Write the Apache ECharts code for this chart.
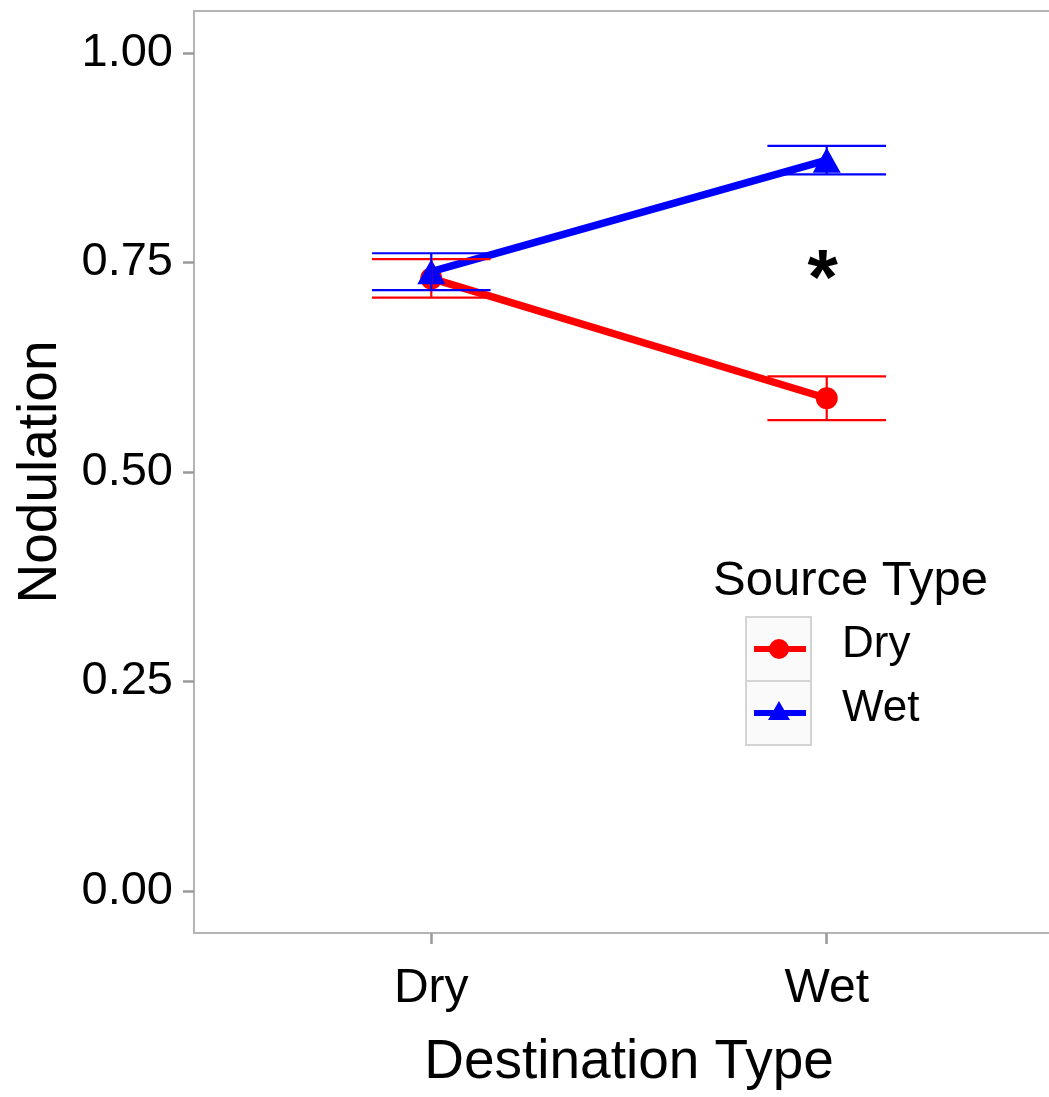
<!DOCTYPE html>
<html>
<head>
<meta charset="utf-8">
<title>Nodulation by destination and source type</title>
<script src="https://cdn.jsdelivr.net/npm/echarts@6/dist/echarts.min.js"></script>
<style>
  html, body { margin: 0; padding: 0; background: #fff; }
  #chart { width: 1049px; height: 1097px; }
</style>
</head>
<body>
<div id="chart"></div>
<script>
// Destination types on the x axis (positions 1, 2)
const destinations = ['Dry', 'Wet'];
// Source types (one line each)
const sourceTypes = ['Dry', 'Wet'];
const sourceColors = ['#ff0000', '#0000ff'];
const sourceSymbols = ['circle', 'triangle'];

// Mean nodulation and error-bar limits per destination
const dryMean  = [0.731, 0.588];
const dryLower = [0.708, 0.562];
const dryUpper = [0.754, 0.614];
const wetMean  = [0.739, 0.872];
const wetLower = [0.717, 0.855];
const wetUpper = [0.761, 0.889];

// y-axis tick values
const yTicks = [0, 0.25, 0.5, 0.75, 1];

// significance marker
const starLabel = '*';
const starDestination = 'Wet';
const starValue = 0.726;

const means = [dryMean, wetMean];
const lowers = [dryLower, wetLower];
const uppers = [dryUpper, wetUpper];

const FONT = '"Liberation Sans", Arial, Helvetica, sans-serif';
const xPos = name => destinations.indexOf(name) + 1;
const capHalf = 0.15;

const chart = echarts.init(document.getElementById('chart'), null, { renderer: 'canvas' });

const lineSeries = sourceTypes.map((s, i) => ({
  name: s,
  type: 'line',
  data: destinations.map((d, j) => [xPos(d), means[i][j]]),
  symbol: sourceSymbols[i],
  symbolSize: i === 0 ? 22 : [28, 25],
  showSymbol: true,
  lineStyle: { color: sourceColors[i], width: 7.5 },
  itemStyle: { color: sourceColors[i] },
  z: 2 + i,
  silent: true
}));

const errSeries = sourceTypes.map((s, i) => ({
  name: s + ' error',
  type: 'custom',
  data: destinations.map((d, j) => [xPos(d), lowers[i][j], uppers[i][j]]),
  renderItem: function (params, api) {
    const x = api.value(0);
    const lo = api.coord([x, api.value(1)]);
    const hi = api.coord([x, api.value(2)]);
    const half = api.size([capHalf, 0])[0];
    const style = { stroke: sourceColors[i], lineWidth: 2.2 };
    return {
      type: 'group',
      children: [
        { type: 'line', shape: { x1: lo[0], y1: lo[1], x2: hi[0], y2: hi[1] }, style },
        { type: 'line', shape: { x1: hi[0] - half, y1: hi[1], x2: hi[0] + half, y2: hi[1] }, style },
        { type: 'line', shape: { x1: lo[0] - half, y1: lo[1], x2: lo[0] + half, y2: lo[1] }, style }
      ]
    };
  },
  z: 5,
  silent: true
}));

const starSeries = {
  name: 'significance',
  type: 'custom',
  data: [[xPos(starDestination), starValue]],
  renderItem: function (params, api) {
    const p = api.coord([api.value(0), api.value(1)]);
    return {
      type: 'text',
      x: p[0] - 4, y: p[1],
      style: {
        text: starLabel, fill: '#000',
        font: 'bold 78px ' + FONT,
        align: 'center', verticalAlign: 'middle'
      }
    };
  },
  z: 6,
  silent: true
};

// legend drawn as keys with line + marker
const keyX = 746, keyY = 617, keyW = 65, keyH = 64;
const legendGraphics = [
  {
    type: 'text', left: 713, top: 557,
    style: { text: 'Source Type', fill: '#000', font: 'normal 49px ' + FONT }
  }
];
sourceTypes.forEach((s, i) => {
  const y0 = keyY + i * keyH;
  const cy = y0 + keyH / 2;
  legendGraphics.push({
    type: 'rect', shape: { x: keyX, y: y0, width: keyW, height: keyH },
    style: { fill: '#fafafa', stroke: '#d4d4d4', lineWidth: 2 }
  });
  legendGraphics.push({
    type: 'line', shape: { x1: keyX + 8, y1: cy, x2: keyX + keyW - 5, y2: cy },
    style: { stroke: sourceColors[i], lineWidth: 6 }
  });
  if (sourceSymbols[i] === 'circle') {
    legendGraphics.push({
      type: 'circle', shape: { cx: keyX + 33, cy: cy, r: 10 },
      style: { fill: sourceColors[i] }
    });
  } else {
    legendGraphics.push({
      type: 'polygon', shape: { points: [[keyX + 33, cy - 12], [keyX + 44, cy + 7], [keyX + 22, cy + 7]] },
      style: { fill: sourceColors[i] }
    });
  }
  legendGraphics.push({
    type: 'text', left: 842, top: cy - 26,
    style: { text: s, fill: '#000', font: 'normal 44px ' + FONT }
  });
});

const option = {
  animation: false,
  backgroundColor: '#ffffff',
  grid: {
    left: 194, top: 11, right: -15, bottom: 164,
    containLabel: false,
    outerBoundsMode: 'none',
    show: true, borderColor: '#b5b5b5', borderWidth: 2, backgroundColor: '#ffffff'
  },
  xAxis: {
    type: 'value',
    min: 0.4, max: 2.6,
    name: 'Destination Type',
    nameLocation: 'middle',
    nameGap: 102,
    nameTextStyle: { fontFamily: FONT, fontSize: 55, color: '#000' },
    axisLine: { show: false, onZero: false },
    splitLine: { show: false },
    axisTick: {
      show: true, length: 11, customValues: destinations.map(xPos),
      lineStyle: { color: '#999999', width: 2.5 }
    },
    axisLabel: {
      show: true, margin: 32, customValues: destinations.map(xPos),
      formatter: v => destinations[Math.round(v) - 1] || '',
      fontFamily: FONT, fontSize: 48, color: '#000'
    }
  },
  yAxis: {
    type: 'value',
    min: -0.05, max: 1.05,
    name: 'Nodulation',
    nameLocation: 'middle',
    nameGap: 126,
    nameRotate: 90,
    nameTextStyle: { fontFamily: FONT, fontSize: 55, color: '#000' },
    axisLine: { show: false, onZero: false },
    splitLine: { show: false },
    axisTick: {
      show: true, length: 11, customValues: yTicks,
      lineStyle: { color: '#999999', width: 2.5 }
    },
    axisLabel: {
      show: true, margin: 21, customValues: yTicks,
      formatter: v => v.toFixed(2),
      fontFamily: FONT, fontSize: 47, color: '#000'
    }
  },
  graphic: legendGraphics,
  series: [...lineSeries, ...errSeries, starSeries]
};

chart.setOption(option);
</script>
</body>
</html>
